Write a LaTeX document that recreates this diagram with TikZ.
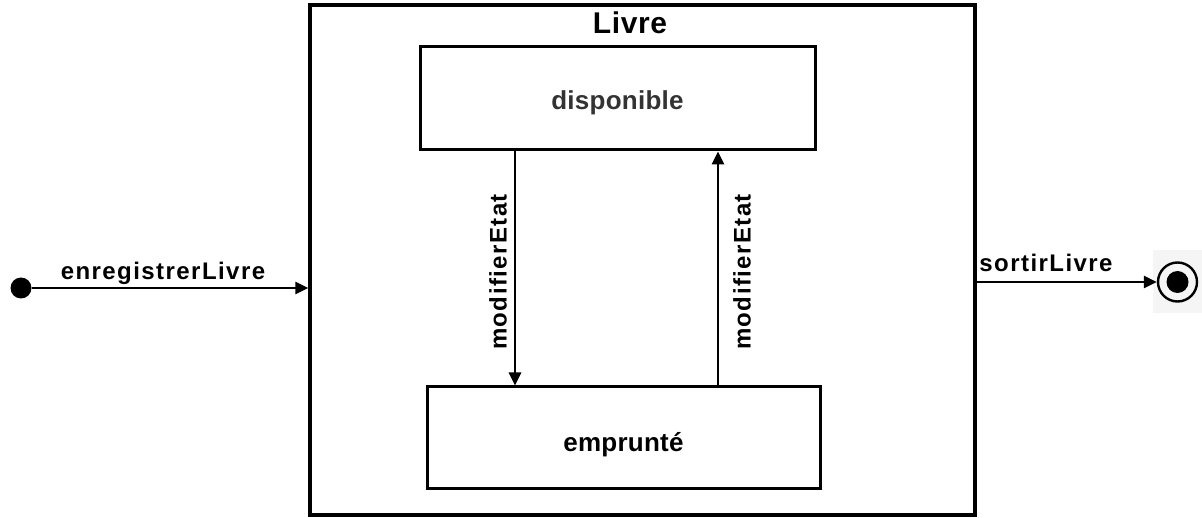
\documentclass[tikz,border=0pt]{standalone}
\usepackage{fontspec}
\setmainfont{Liberation Sans}
\usetikzlibrary{arrows.meta,calc}
\definecolor{stategray}{HTML}{333333}
\definecolor{bgfaint}{HTML}{F5F5F5}
\tikzset{
  lbl/.style={font=\bfseries\fontsize{24}{28}\selectfont\addfontfeature{LetterSpace=6}, inner sep=0pt},
  statebox/.style={draw, line width=3pt, rectangle, inner sep=0pt, text depth=5.5pt,
    font=\bfseries\fontsize{26}{30}\selectfont\addfontfeature{LetterSpace=1}},
  arr/.style={line width=2.6pt, -{Triangle[length=13pt,width=12pt]}},
}
\begin{document}
\begin{tikzpicture}[x=1pt,y=-1pt]
\useasboundingbox (0,0) rectangle (1202,518);
\fill[white] (0,0) rectangle (1202,518);
\fill[bgfaint] (1153,250) rectangle (1202,313);
% outer composite state
\node[draw, line width=3.2pt, minimum width=665pt, minimum height=510pt, inner sep=0pt] (livre) at (642.5,260) {};
\node[font=\bfseries\fontsize{30}{34}\selectfont\addfontfeature{LetterSpace=2}, inner sep=0pt, anchor=base] (title) at (630,34) {Livre};
% inner states
\node[statebox, minimum width=395pt, minimum height=103pt, text height=28.5pt, text=stategray] (disp) at (617.5,98.5) {disponible};
\node[statebox, minimum width=393pt, minimum height=101pt, text height=33pt] (empr) at (623.5,437.5) {emprunté};
% transitions between inner states
\coordinate (xa) at (515,0);
\coordinate (xb) at (718,0);
\draw[arr] (disp.south -| xa) -- (empr.north -| xa);
\draw[arr] (empr.north -| xb) -- (disp.south -| xb);
\node[lbl, rotate=90] (la) at (498,272) {modifierEtat};
\node[lbl, rotate=90] (lb) at (742,272) {modifierEtat};
% initial state
\node[circle, fill=black, minimum size=21pt, inner sep=0pt] (init) at (21,288) {};
\coordinate (inend) at (310,288);
\draw[arr] (init) -- (inend -| livre.west);
\node[lbl, anchor=base] (le) at (163,280) {enregistrerLivre};
% final state
\node[circle, draw, line width=2.4pt, minimum size=39pt, inner sep=0pt] (final) at (1177.5,282) {};
\fill (final.center) circle (11pt);
\draw[arr] (final -| livre.east) -- (final.west);
\node[lbl, anchor=base] (ls) at (1046,272) {sortirLivre};
\end{tikzpicture}
\end{document}
